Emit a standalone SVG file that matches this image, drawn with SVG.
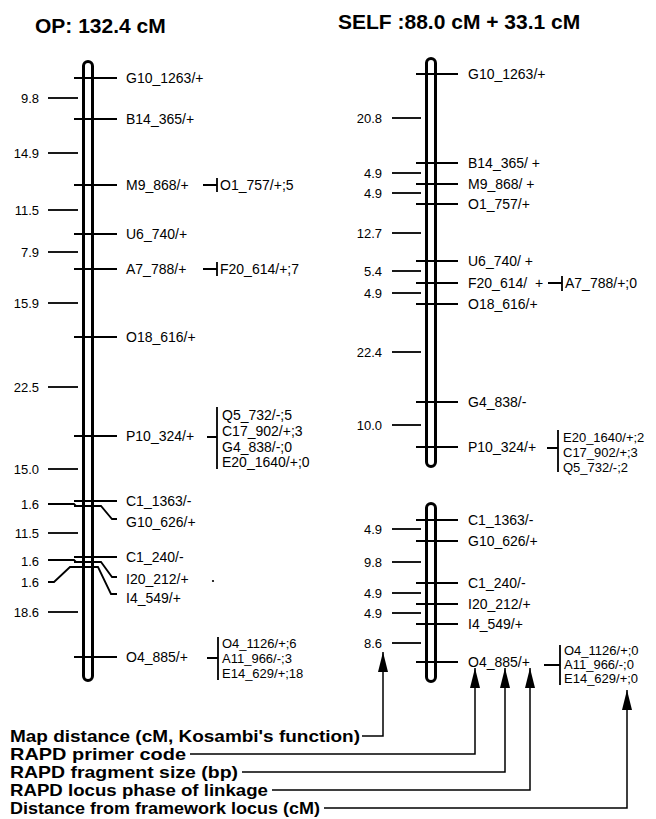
<svg xmlns="http://www.w3.org/2000/svg" width="656" height="819" viewBox="0 0 656 819">
<defs>
<style>
text{font-family:"Liberation Sans",Arial,sans-serif;fill:#000}
.t{font-size:21px;font-weight:bold}
.l{font-size:14px}
.k{font-size:13px}
.d{font-size:13px;text-anchor:end}
.g{font-size:16.5px;font-weight:bold}
.chr{fill:#fff;stroke:#000;stroke-width:3}
.m{stroke:#000;stroke-width:1.8;fill:none}
.c{stroke:#000;stroke-width:1.5;fill:none}
</style>
<marker id="ah" viewBox="0 0 20 10" refX="20" refY="5" markerWidth="20" markerHeight="10" markerUnits="userSpaceOnUse" orient="auto">
<path d="M0,0 L20,5 L0,10 z" fill="#000"/>
</marker>
</defs>
<rect width="656" height="819" fill="#fff"/>

<text class="t" x="35" y="33">OP: 132.4 cM</text>
<text class="t" x="338" y="29">SELF :88.0 cM + 33.1 cM</text>

<!-- Left chromosome OP -->
<g id="chrOP">
<rect class="chr" x="83.5" y="61.5" width="9" height="619" rx="4.5"/>
</g>
<g id="op-markers">
<g id="op-G10_1263"><path class="m" d="M74,78H117"/><text class="l" x="126" y="83">G10_1263/+</text></g>
<g id="op-B14_365"><path class="m" d="M74,119H117"/><text class="l" x="126" y="124">B14_365/+</text></g>
<g id="op-M9_868"><path class="m" d="M74,185H117"/><text class="l" x="126" y="190">M9_868/+</text></g>
<g id="op-U6_740"><path class="m" d="M74,234H117"/><text class="l" x="126" y="239">U6_740/+</text></g>
<g id="op-A7_788"><path class="m" d="M74,269H117"/><text class="l" x="126" y="274">A7_788/+</text></g>
<g id="op-O18_616"><path class="m" d="M74,337H117"/><text class="l" x="126" y="342">O18_616/+</text></g>
<g id="op-P10_324"><path class="m" d="M74,436H117"/><text class="l" x="126" y="441">P10_324/+</text></g>
<g id="op-C1_1363"><path class="m" d="M74,501H117"/><text class="l" x="126" y="506">C1_1363/-</text></g>
<g id="op-G10_626"><path class="m" d="M74,506H101L112,519H117"/><text class="l" x="126" y="527">G10_626/+</text></g>
<g id="op-C1_240"><path class="m" d="M74,557H117"/><text class="l" x="126" y="562">C1_240/-</text></g>
<g id="op-I20_212"><path class="m" d="M74,562H101L112,577H117"/><text class="l" x="126" y="584">I20_212/+</text></g>
<g id="op-I4_549"><path class="m" d="M74,567H98L111,594H117"/><text class="l" x="126" y="603">I4_549/+</text></g>
<g id="op-O4_885"><path class="m" d="M74,657H117"/><text class="l" x="126" y="662">O4_885/+</text></g>
</g>
<g id="op-distances">
<g id="op-d1"><path class="m" d="M48,98H78"/><text class="d" x="39" y="103">9.8</text></g>
<g id="op-d2"><path class="m" d="M48,153H78"/><text class="d" x="39" y="158">14.9</text></g>
<g id="op-d3"><path class="m" d="M48,210H78"/><text class="d" x="39" y="215">11.5</text></g>
<g id="op-d4"><path class="m" d="M48,252H78"/><text class="d" x="39" y="257">7.9</text></g>
<g id="op-d5"><path class="m" d="M48,303H78"/><text class="d" x="39" y="308">15.9</text></g>
<g id="op-d6"><path class="m" d="M48,387H78"/><text class="d" x="39" y="392">22.5</text></g>
<g id="op-d7"><path class="m" d="M48,469H78"/><text class="d" x="39" y="474">15.0</text></g>
<g id="op-d8"><path class="m" d="M48,504H74L76,506"/><text class="d" x="39" y="509">1.6</text></g>
<g id="op-d9"><path class="m" d="M48,533H78"/><text class="d" x="39" y="538">11.5</text></g>
<g id="op-d10"><path class="m" d="M48,560H74L76,562"/><text class="d" x="39" y="566">1.6</text></g>
<g id="op-d11"><path class="m" d="M48,582H54L70,567H78"/><text class="d" x="39" y="587">1.6</text></g>
<g id="op-d12"><path class="m" d="M48,612H78"/><text class="d" x="39" y="617">18.6</text></g>
</g>
<g id="op-linked">
<g id="op-b1"><path class="m" d="M203,185H217M217,178V192"/><text class="l" x="220" y="190">O1_757/+;5</text></g>
<g id="op-b2"><path class="m" d="M203,269H217M217,262V276"/><text class="l" x="220" y="274">F20_614/+;7</text></g>
<g id="op-b3"><path class="m" d="M207,437H217M217,407V469"/>
<text class="l" x="222" y="420">Q5_732/-;5</text>
<text class="l" x="222" y="436">C17_902/+;3</text>
<text class="l" x="222" y="452">G4_838/-;0</text>
<text class="l" x="222" y="467">E20_1640/+;0</text></g>
<g id="op-b4"><path class="m" d="M207,658H218M218,637V680"/>
<text class="k" x="222" y="648">O4_1126/+;6</text>
<text class="k" x="222" y="663">A11_966/-;3</text>
<text class="k" x="222" y="678">E14_629/+;18</text></g>
</g>
<circle cx="213" cy="581" r="1.1" fill="#000"/>

<!-- Right chromosome SELF -->
<g id="chrSELF1"><rect class="chr" x="426.5" y="58.5" width="9" height="408" rx="4.5"/></g>
<g id="chrSELF2"><rect class="chr" x="426.5" y="503.5" width="9" height="178" rx="4.5"/></g>
<g id="self-markers">
<g id="s-G10_1263"><path class="m" d="M416,74H458"/><text class="l" x="468" y="79">G10_1263/+</text></g>
<g id="s-B14_365"><path class="m" d="M416,163H458"/><text class="l" x="468" y="168">B14_365/ +</text></g>
<g id="s-M9_868"><path class="m" d="M416,184H458"/><text class="l" x="468" y="189">M9_868/ +</text></g>
<g id="s-O1_757"><path class="m" d="M416,204H458"/><text class="l" x="468" y="209">O1_757/+</text></g>
<g id="s-U6_740"><path class="m" d="M416,261H458"/><text class="l" x="468" y="266">U6_740/ +</text></g>
<g id="s-F20_614"><path class="m" d="M416,283H458"/><text class="l" x="468" y="288">F20_614/</text><text class="l" x="535" y="288">+</text></g>
<g id="s-O18_616"><path class="m" d="M416,304H458"/><text class="l" x="468" y="309">O18_616/+</text></g>
<g id="s-G4_838"><path class="m" d="M416,402H458"/><text class="l" x="468" y="407">G4_838/-</text></g>
<g id="s-P10_324"><path class="m" d="M416,447H458"/><text class="l" x="468" y="452">P10_324/+</text></g>
<g id="s-C1_1363"><path class="m" d="M416,520H458"/><text class="l" x="468" y="525">C1_1363/-</text></g>
<g id="s-G10_626"><path class="m" d="M416,541H458"/><text class="l" x="468" y="546">G10_626/+</text></g>
<g id="s-C1_240"><path class="m" d="M416,583H458"/><text class="l" x="468" y="588">C1_240/-</text></g>
<g id="s-I20_212"><path class="m" d="M416,604H458"/><text class="l" x="468" y="609">I20_212/+</text></g>
<g id="s-I4_549"><path class="m" d="M416,624H458"/><text class="l" x="468" y="629">I4_549/+</text></g>
<g id="s-O4_885"><path class="m" d="M416,662H458"/><text class="l" x="468" y="667">O4_885/+</text></g>
</g>
<g id="self-distances">
<g id="s-d1"><path class="m" d="M392,118H421"/><text class="d" x="382" y="123">20.8</text></g>
<g id="s-d2"><path class="m" d="M392,173H421"/><text class="d" x="382" y="178">4.9</text></g>
<g id="s-d3"><path class="m" d="M392,193H421"/><text class="d" x="382" y="198">4.9</text></g>
<g id="s-d4"><path class="m" d="M392,233H421"/><text class="d" x="382" y="238">12.7</text></g>
<g id="s-d5"><path class="m" d="M392,271H421"/><text class="d" x="382" y="276">5.4</text></g>
<g id="s-d6"><path class="m" d="M392,293H421"/><text class="d" x="382" y="298">4.9</text></g>
<g id="s-d7"><path class="m" d="M392,352H421"/><text class="d" x="382" y="357">22.4</text></g>
<g id="s-d8"><path class="m" d="M392,425H421"/><text class="d" x="382" y="430">10.0</text></g>
<g id="s-d9"><path class="m" d="M392,529H421"/><text class="d" x="382" y="534">4.9</text></g>
<g id="s-d10"><path class="m" d="M392,562H421"/><text class="d" x="382" y="567">9.8</text></g>
<g id="s-d11"><path class="m" d="M392,593H421"/><text class="d" x="382" y="598">4.9</text></g>
<g id="s-d12"><path class="m" d="M392,613H421"/><text class="d" x="382" y="618">4.9</text></g>
<g id="s-d13"><path class="m" d="M392,643H421"/><text class="d" x="382" y="648">8.6</text></g>
</g>
<g id="self-linked">
<g id="s-b1"><path class="m" d="M548,283H562M562,276V291"/><text class="l" x="565" y="288">A7_788/+;0</text></g>
<g id="s-b2"><path class="m" d="M547,448H558M558,430V472"/>
<text class="k" x="563" y="442">E20_1640/+;2</text>
<text class="k" x="563" y="457">C17_902/+;3</text>
<text class="k" x="563" y="472">Q5_732/-;2</text></g>
<g id="s-b3"><path class="m" d="M544,665H560M560,645V685"/>
<text class="k" x="564" y="655">O4_1126/+;0</text>
<text class="k" x="564" y="669">A11_966/-;0</text>
<text class="k" x="564" y="683">E14_629/+;0</text></g>
</g>

<!-- Legend -->
<g id="legend">
<g id="leg1"><text class="g" x="10" y="742" textLength="350" lengthAdjust="spacingAndGlyphs">Map distance (cM, Kosambi's function)</text></g>
<g id="leg2"><text class="g" x="10" y="760" textLength="176" lengthAdjust="spacingAndGlyphs">RAPD primer code</text></g>
<g id="leg3"><text class="g" x="10" y="778" textLength="228" lengthAdjust="spacingAndGlyphs">RAPD fragment size (bp)</text></g>
<g id="leg4"><text class="g" x="10" y="796" textLength="258" lengthAdjust="spacingAndGlyphs">RAPD locus phase of linkage</text></g>
<g id="leg5"><text class="g" x="10" y="814" textLength="310" lengthAdjust="spacingAndGlyphs">Distance from framework locus (cM)</text></g>
</g>
<g id="connectors">
<path class="c" d="M362,736H383V652" marker-end="url(#ah)"/>
<path class="c" d="M190,754H475V668" marker-end="url(#ah)"/>
<path class="c" d="M242,772H505V668" marker-end="url(#ah)"/>
<path class="c" d="M272,790H530V668" marker-end="url(#ah)"/>
<path class="c" d="M324,808H627V690" marker-end="url(#ah)"/>
</g>
</svg>
